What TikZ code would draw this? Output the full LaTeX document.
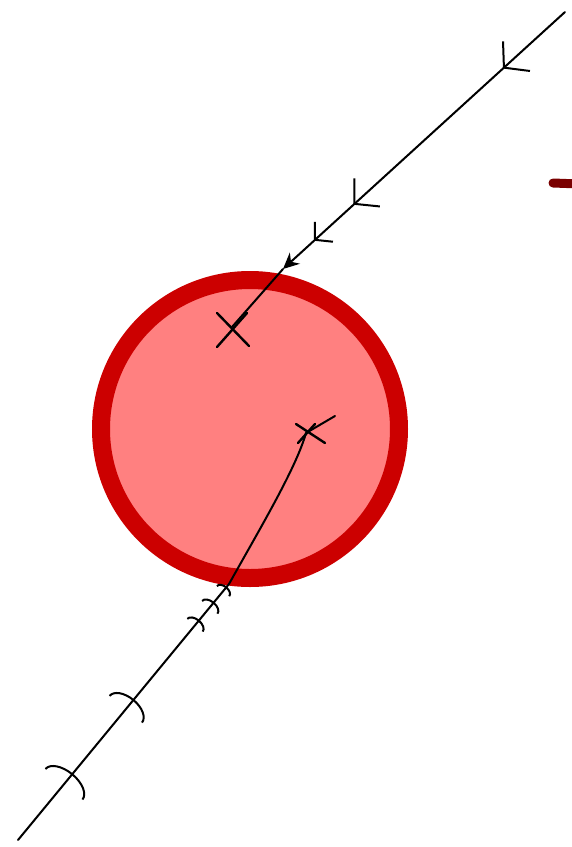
\documentclass[tikz,border=0pt]{standalone}
\usepackage{tikz}
\usetikzlibrary{arrows.meta,decorations.markings,calc}

\definecolor{ringred}{HTML}{CC0000}
\definecolor{diskred}{HTML}{FF8080}
\definecolor{spotred}{HTML}{7A0000}

\begin{document}
\begin{tikzpicture}[
    x=1pt, y=-1pt,
    ring/.style={draw=ringred, fill=diskred, line width=18pt},
    track/.style={draw, line width=2pt, line cap=round},
    crossmark/.style={draw, line width=2.4pt, line cap=round},
    inbarb/.style={postaction={decorate}, decoration={markings,
        mark=at position 0.22 with {\arrow{Straight Barb[length=17pt, width=40pt, line width=2pt]}},
        mark=at position 0.75 with {\arrow{Straight Barb[length=17pt, width=38pt, line width=2pt]}},
        mark=at position 0.89 with {\arrow{Straight Barb[length=12pt, width=27pt, line width=2pt]}}}},
    outbarb/.style={postaction={decorate}, decoration={markings,
        mark=at position 0.26 with {\arrow{Arc Barb[length=14pt, width=50pt, line width=2pt]}},
        mark=at position 0.55 with {\arrow{Arc Barb[length=13pt, width=44pt, line width=2pt]}},
        mark=at position 0.86 with {\arrow{Arc Barb[length=7pt, width=22pt, line width=2pt]}},
        mark=at position 0.93 with {\arrow{Arc Barb[length=7pt, width=22pt, line width=2pt]}},
        mark=at position 0.99 with {\arrow{Arc Barb[length=6pt, width=18pt, line width=2pt]}}}}
  ]
    \useasboundingbox (0,0) rectangle (572,847);

    % target disk
    \coordinate (centre) at (250,429);
    \path[ring] (centre) circle[radius=149];

    % stray mark on the right edge
    \draw[spotred, line width=9pt, line cap=round] (553,183) -- (580,184);

    % incoming track
    \coordinate (top) at (565,12);
    \coordinate (entry) at (283,269);
    \coordinate (hitA) at (232,327);
    \draw[track, inbarb, -{Stealth[length=16pt, width=15pt]}] (top) -- (entry);
    \draw[track] (entry) -- (hitA);
    \draw[crossmark] ($(hitA)+(-15,-14)$) -- ($(hitA)+(17,19)$);
    \draw[crossmark] ($(hitA)+(-15,20)$) -- ($(hitA)+(15,-14)$);

    % outgoing track
    \coordinate (bottom) at (18,840);
    \coordinate (exit) at (229,584);
    \coordinate (hitB) at (306,433);
    \coordinate (tail) at (335,416);
    \draw[track, outbarb] (bottom) -- (exit);
    \draw[track] (exit) .. controls (262,525) and (296,468) .. (hitB) -- (tail);
    \draw[crossmark] ($(hitB)+(-10,-9)$) -- ($(hitB)+(19,10)$);
    \draw[crossmark] ($(hitB)+(-8,10)$) -- ($(hitB)+(9,-9)$);
\end{tikzpicture}
\end{document}
